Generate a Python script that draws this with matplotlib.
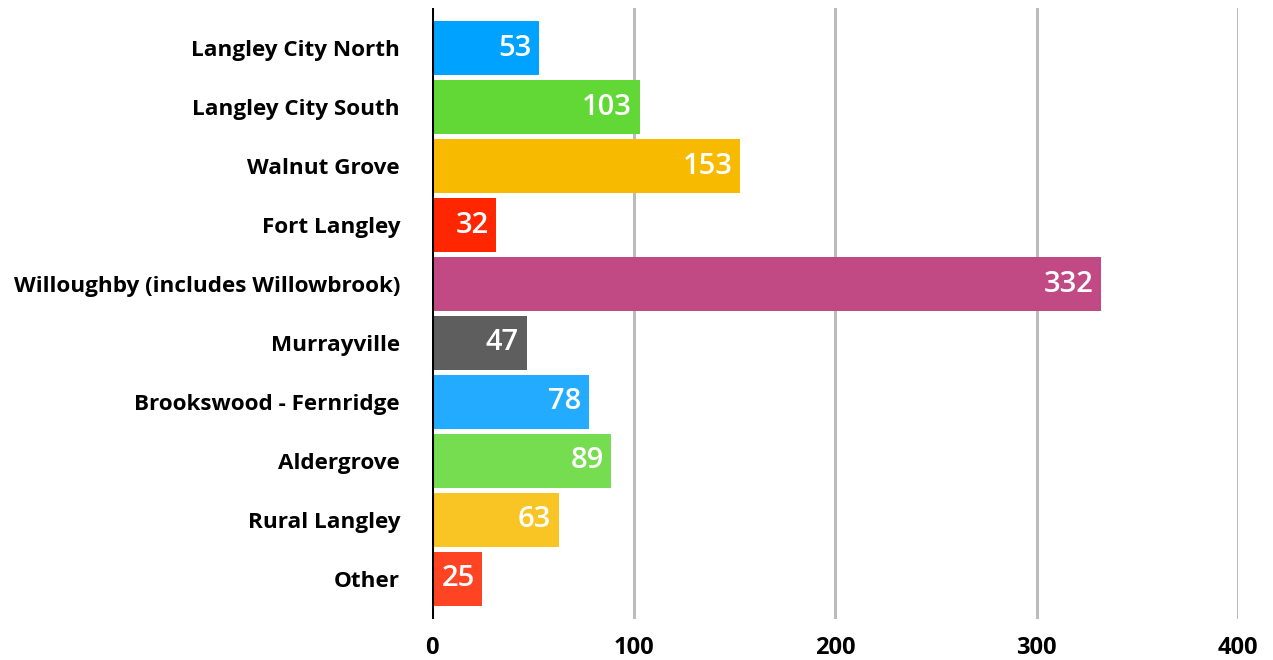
import matplotlib.pyplot as plt
import numpy as np

# data
areas = ['Langley City North', 'Langley City South', 'Walnut Grove', 'Fort Langley',
         'Willoughby (includes Willowbrook)', 'Murrayville', 'Brookswood - Fernridge',
         'Aldergrove', 'Rural Langley', 'Other']
counts = [53, 103, 153, 32, 332, 47, 78, 89, 63, 25]
colours = ['#00A2FF', '#61D836', '#F8BA00', '#FF2600', '#C24A84',
           '#5E5E5E', '#22ABFF', '#77DD50', '#F9C524', '#FF4424']
x_ticks = [0, 100, 200, 300, 400]

plt.rcParams['font.family'] = ['Open Sans', 'DejaVu Sans']

fig = plt.figure(figsize=(12.73, 6.6), dpi=100)
ax = fig.add_axes([432 / 1273, 1 - 619 / 660, (1238 - 432) / 1273, (619 - 8) / 660])

y = np.arange(len(areas))
bars = ax.barh(y, counts, height=0.915, color=colours, zorder=3)

# value labels inside the bar ends
for rect, val in zip(bars, counts):
    ax.text(rect.get_width() - 3.8, rect.get_y() + rect.get_height() / 2, str(val),
            ha='right', va='center', color='white', fontsize=21, fontweight='semibold',
            zorder=4)

ax.set_xlim(0, 400)
ax.set_ylim(len(areas) - 1 + 0.68, -0.68)
ax.set_xticks(x_ticks)
ax.set_yticks(y)
ax.set_yticklabels(areas, fontsize=16.2, fontweight='bold')
ax.tick_params(axis='y', length=0, pad=23)
ax.tick_params(axis='x', length=0, pad=12, labelsize=17)
for lbl in ax.get_xticklabels():
    lbl.set_fontweight('bold')

ax.grid(axis='x', color='#BBBBBB', linewidth=2.2, zorder=1)
ax.axvline(0, color='black', linewidth=2.2, zorder=5)
for s in ax.spines.values():
    s.set_visible(False)

fig.savefig('out.png', dpi=100)
